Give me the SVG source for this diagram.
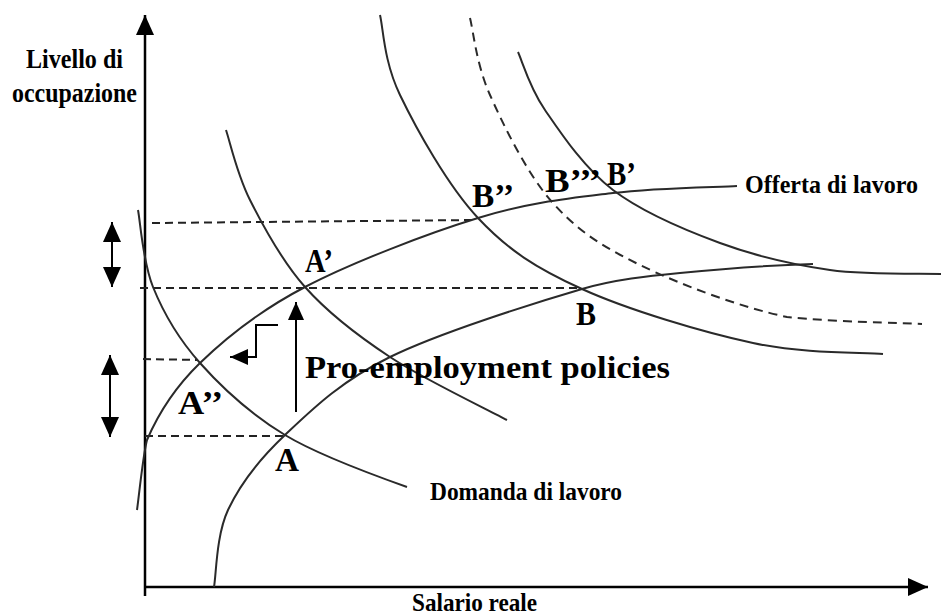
<svg xmlns="http://www.w3.org/2000/svg" width="941" height="615" viewBox="0 0 941 615">
<defs>
<marker id="ah" viewBox="0 0 20 18" refX="20" refY="9" markerWidth="20" markerHeight="18" markerUnits="userSpaceOnUse" orient="auto-start-reverse"><path d="M0,0 L20,9 L0,18 z" fill="#000"/></marker>
<marker id="ahs" viewBox="0 0 18 16" refX="18" refY="8" markerWidth="18" markerHeight="16" markerUnits="userSpaceOnUse" orient="auto-start-reverse"><path d="M0,0 L18,8 L0,16 z" fill="#000"/></marker>
</defs>
<style>
.axis{stroke:#000;stroke-width:2.5;fill:none}
.curve{stroke:#2a2a2a;stroke-width:2;fill:none}
.dcurve{stroke:#2a2a2a;stroke-width:2;fill:none;stroke-dasharray:9 6}
.guide{stroke:#222;stroke-width:2;fill:none;stroke-dasharray:8 5}
.arr{stroke:#000;stroke-width:2;fill:none}
.lbl{font-family:"Liberation Serif","Times New Roman",serif;font-weight:bold;fill:#000}
.pt{font-family:"Liberation Serif","Times New Roman",serif;font-weight:bold;fill:#000;font-size:34px}
</style>
<rect width="941" height="615" fill="#fff"/>
<g id="axes">
<line class="axis" x1="145" y1="596" x2="145" y2="15" marker-end="url(#ah)"/>
<line class="axis" x1="144" y1="587" x2="928" y2="587" marker-end="url(#ah)"/>
</g>
<g id="guides">
<line class="guide" x1="152" y1="223" x2="476" y2="220"/>
<line class="guide" x1="140" y1="288" x2="580" y2="288"/>
<line class="guide" x1="143" y1="359" x2="198" y2="360"/>
<line class="guide" x1="145" y1="436" x2="284" y2="436"/>
</g>
<g id="curves">
<path id="D1" class="curve" d="M138,210 C140.5,222.8 142.7,261.5 153,287 C163.3,312.5 178,338.3 200,363 C222,387.7 250.8,414.2 285,435 C319.2,455.8 385,479.2 407,487"/>
<path id="D2" class="curve" d="M226,130 C230,141.7 236.8,173.8 250,200 C263.2,226.2 281.7,260.8 305,287 C328.3,313.2 356.3,334.8 390,357 C423.7,379.2 487.5,409.5 507,420"/>
<path id="D3" class="curve" d="M380,15 C383.3,28.3 383.7,61.2 400,95 C416.3,128.8 447.7,185.7 478,218 C508.3,250.3 536.2,268.2 582,289 C627.8,309.8 702.8,332.2 753,343 C803.2,353.8 861.3,352.2 883,354"/>
<path id="D3b" class="dcurve" d="M470,18 C473.3,30.8 476.3,64.3 490,95 C503.7,125.7 527,173.7 552,202 C577,230.3 600.8,245.8 640,265 C679.2,284.2 740,307.2 787,317 C834,322 899.5,322.8 922,324"/>
<path id="D4" class="curve" d="M518,52 C522.5,61.7 529.2,87 545,110 C560.8,133 583.8,167.8 613,190 C642.2,212.2 683.8,229.7 720,243 C756.2,256.3 793.2,264.8 830,270 C866.8,275.2 922.5,273.3 941,274"/>
<path id="S1" class="curve" d="M137,510 C138.7,498.3 143,455 147,440 C157.5,415.5 173.7,388.5 200,363 C226.3,337.5 258.7,311.2 305,287 C351.3,262.8 426.7,233.7 478,218 C529.3,202.3 569.8,198.3 613,193 C656.2,187.7 716.3,187.2 737,186"/>
<path id="S2" class="curve" d="M214,587 C216.3,574.2 216.2,535.3 228,510 C239.8,484.7 258,460.5 285,435 C312,409.5 340.5,381.3 390,357 C439.5,332.7 533.7,303.2 582,289 C615,279.5 648,276 680,273 C720,269 780,265 813,264"/>
</g>
<g id="arrows">
<line class="arr" x1="112" y1="222" x2="112" y2="287" marker-start="url(#ah)" marker-end="url(#ah)"/>
<line class="arr" x1="110" y1="355" x2="110" y2="437" marker-start="url(#ah)" marker-end="url(#ah)"/>
<line class="arr" x1="296" y1="412" x2="296" y2="302" marker-end="url(#ahs)"/>
<polyline class="arr" points="278,325 256,325 256,357 230,357" marker-end="url(#ahs)"/>
</g>
<g id="labels">
<text class="lbl" x="26" y="68" font-size="28" textLength="97" lengthAdjust="spacingAndGlyphs">Livello di</text>
<text class="lbl" x="12" y="102" font-size="28" textLength="125" lengthAdjust="spacingAndGlyphs">occupazione</text>
<text class="lbl" x="745" y="193" font-size="25" textLength="173" lengthAdjust="spacingAndGlyphs">Offerta di lavoro</text>
<text class="lbl" x="430" y="500" font-size="26" textLength="192" lengthAdjust="spacingAndGlyphs">Domanda di lavoro</text>
<text class="lbl" x="412" y="611" font-size="25" textLength="125" lengthAdjust="spacingAndGlyphs">Salario reale</text>
<text class="lbl" x="305" y="378" font-size="32" textLength="365" lengthAdjust="spacingAndGlyphs">Pro-employment policies</text>
<text class="pt" x="305" y="272" textLength="28" lengthAdjust="spacingAndGlyphs">A’</text>
<text class="pt" x="178" y="414" textLength="45" lengthAdjust="spacingAndGlyphs">A’’</text>
<text class="pt" x="275" y="471" textLength="24" lengthAdjust="spacingAndGlyphs">A</text>
<text class="pt" x="576" y="325" textLength="20" lengthAdjust="spacingAndGlyphs">B</text>
<text class="pt" x="472" y="207" textLength="42" lengthAdjust="spacingAndGlyphs">B’’</text>
<text class="pt" x="545" y="192" textLength="56" lengthAdjust="spacingAndGlyphs">B’’’</text>
<text class="pt" x="607" y="185" textLength="29" lengthAdjust="spacingAndGlyphs">B’</text>
</g>
</svg>
